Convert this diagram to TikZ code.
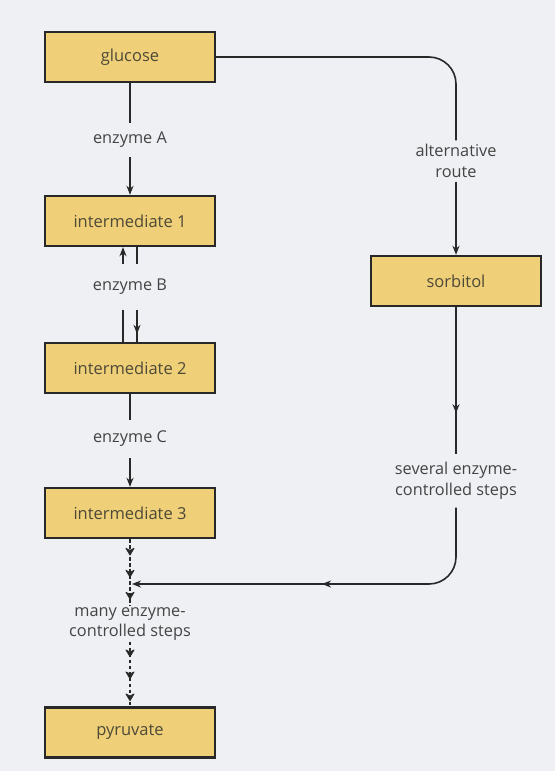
\documentclass[tikz,border=0pt]{standalone}
\usepackage{fontspec}
\setmainfont{Open Sans}
\usetikzlibrary{arrows.meta,decorations.markings}

\definecolor{paper}{RGB}{238,240,243}
\definecolor{boxfill}{RGB}{239,207,120}
\definecolor{ink}{RGB}{40,40,40}
\definecolor{boxtext}{RGB}{78,74,56}
\definecolor{labeltext}{RGB}{68,68,68}

\begin{document}
\begin{tikzpicture}[x=1pt,y=-1pt,
  stagebox/.style={draw=ink, line width=2.4pt, fill=boxfill,
    minimum width=170pt, minimum height=50pt, inner sep=0pt,
    text=boxtext, font=\fontsize{16.5}{18}\selectfont},
  steplabel/.style={text=labeltext, font=\fontsize{16.3}{20.5}\selectfont,
    align=center, inner xsep=2pt},
  link/.style={draw=ink, line width=1.6pt},
  tip/.style={-{Stealth[length=9pt,width=7pt]}},
  midtip/.style={postaction={decorate}, decoration={markings,
    mark=at position #1 with {\arrow{Stealth[length=9pt,width=7pt]}}}},
  dotchain/.style={draw=ink, line width=1.6pt, dash pattern=on 3.5pt off 2.5pt,
    postaction={decorate}, decoration={markings,
    mark=between positions #1 and 1 step 22pt with
      {\filldraw[ink, solid, line width=0.6pt, line join=round]
        (3pt,0) -- (-4pt,4.2pt) -- (-2pt,0) -- (-4pt,-4.2pt) -- cycle;}}}
]
% paper background
\fill[paper] (0,0) rectangle (555,771);
\useasboundingbox (0,0) rectangle (555,771);

% main pathway boxes
\node[stagebox] (g)  at (130,57)    {glucose};
\node[stagebox] (i1) at (130,221)   {intermediate 1};
\node[stagebox] (i2) at (130,368)   {intermediate 2};
\node[stagebox] (i3) at (130,513)   {intermediate 3};
\node[stagebox] (p)  at (130,732.5) {pyruvate};
\node[stagebox] (s)  at (456,281)   {sorbitol};

% step labels
\node[steplabel, inner ysep=9pt]  (ea)  at (130,140) {enzyme A};
\node[steplabel, inner ysep=15pt] (eb)  at (130,287) {enzyme B};
\node[steplabel, inner ysep=11pt] (ec)  at (130,439) {enzyme C};
\node[steplabel, inner ysep=4pt]  (alt) at (456,161) {alternative\\route};
\node[steplabel, inner ysep=8pt]  (sev) at (456,481) {several enzyme-\\controlled steps};
\node[steplabel, inner ysep=1pt]  (many) at (130,624) {many enzyme-\\controlled steps};
\coordinate (join) at (132,584);

% glucose -> intermediate 1
\draw[link] (g.south) -- (ea.north);
\draw[link, tip] (ea.south) -- (i1.north);

% reversible step (enzyme B)
\draw[link, tip] ([xshift=-7pt]eb.north) -- ([xshift=-7pt]i1.south);
\draw[link] ([xshift=7pt]i1.south) -- ([xshift=7pt]eb.north);
\draw[link] ([xshift=-7pt]eb.south) -- ([xshift=-7pt]i2.north);
\draw[link, midtip=0.75] ([xshift=7pt]eb.south) -- ([xshift=7pt]i2.north);

% intermediate 2 -> intermediate 3
\draw[link] (i2.south) -- (ec.north);
\draw[link, tip] (ec.south) -- (i3.north);

% intermediate 3 -> pyruvate, many small steps
\draw[dotchain=13pt] (i3.south) -- (many.north);
\draw[dotchain=12pt] (many.south) -- (p.north);

% alternative route through sorbitol
\draw[link, rounded corners=27pt] (g.east) -| (alt.north);
\draw[link, tip] (alt.south) -- (s.north);
\draw[link, midtip=0.72] (s.south) -- (sev.north);
\draw[link, tip, rounded corners=27pt, midtip=-190pt] (sev.south) |- (join);
\end{tikzpicture}
\end{document}
